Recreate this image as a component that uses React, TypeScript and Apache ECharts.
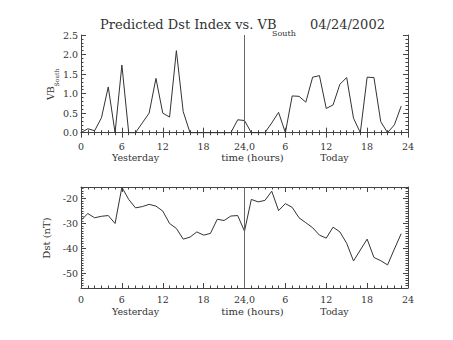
import React, { useEffect, useRef } from "react";
import * as echarts from "echarts";

const HOURS = [0,1,2,3,4,5,6,7,8,9,10,11,12,13,14,15,16,17,18,19,20,21,22,23,24,25,26,27,28,29,30,31,32,33,34,35,36,37,38,39,40,41,42,43,44,45,46,47];
const VB_SOUTH = [0,0.1,0.05,0.38,1.17,0,1.73,0,0,0.25,0.5,1.39,0.5,0.4,2.1,0.54,0,0,0,0,0,0,0,0.33,0.31,0,0,0,0.25,0.52,0,0.94,0.93,0.78,1.42,1.46,0.62,0.71,1.24,1.41,0.37,0,1.42,1.41,0.28,0,0.2,0.68];
const DST = [-28.7,-26,-27.7,-27.1,-26.8,-30,-15.4,-20.3,-23.7,-23.2,-22.3,-23,-25,-30,-32,-36.3,-35.5,-33.4,-34.7,-34,-28.3,-28.8,-27,-26.8,-33.1,-20.3,-21.3,-20.7,-17,-24.8,-22,-23.5,-27.7,-29.7,-31.7,-34.7,-35.9,-31.5,-33.4,-38,-45.1,-40.7,-36.3,-43.7,-45,-46.7,-40.3,-34.1];
const X_TICK_LABELS: Record<number, string> = { 0: "0", 6: "6", 12: "12", 18: "18", 24: "24,0", 30: "6", 36: "12", 42: "18", 48: "24" };
const VB_TICKS = [0, 0.5, 1.0, 1.5, 2.0, 2.5];
const DST_TICKS = [-50, -40, -30, -20];

const FONT = "DejaVu Serif";
const INK = "#333";
const AXIS = "#444";

function range(a: number, b: number, step: number) {
  const out: number[] = [];
  for (let v = a; v <= b + 1e-9; v += step) out.push(Math.round(v * 1000) / 1000);
  return out;
}

export default function App() {
  const ref = useRef<HTMLDivElement>(null);
  useEffect(() => {
    if (!ref.current) return;
    const chart = echarts.init(ref.current, null, { renderer: "svg" });
    const grids = [
      { left: 81, top: 35, width: 327, height: 100 },
      { left: 81, top: 187, width: 327, height: 101 },
    ];
    const xAx = (gridIndex: number, position: string, labels: boolean) => ({
      type: "value",
      gridIndex,
      position,
      min: 0,
      max: 48,
      interval: 6,
      axisLine: { show: true, lineStyle: { color: AXIS, width: 1 } },
      axisTick: { show: true, inside: true, length: 5, lineStyle: { color: AXIS } },
      minorTick: { show: true, splitNumber: 6, length: 2.5, lineStyle: { color: AXIS } },
      splitLine: { show: false },
      minorSplitLine: { show: false },
      axisLabel: {
        show: labels,
        margin: 6,
        fontFamily: FONT,
        fontSize: 9.5,
        color: INK,
        formatter: (v: number) => X_TICK_LABELS[v] ?? "",
      },
    });
    const yAx = (
      gridIndex: number,
      position: string,
      min: number,
      max: number,
      ticks: number[],
      len: number,
      labels: boolean,
      line: boolean,
      fmt: (v: number) => string
    ) => ({
      type: "value",
      gridIndex,
      position,
      min,
      max,
      axisLine: { show: line, lineStyle: { color: AXIS, width: 1 } },
      axisTick: { show: true, inside: true, length: len, customValues: ticks, lineStyle: { color: AXIS } },
      splitLine: { show: false },
      axisLabel: {
        show: labels,
        customValues: ticks,
        margin: 3,
        fontFamily: FONT,
        fontSize: 9.5,
        color: INK,
        formatter: fmt,
      },
    });
    const vbMinor = range(0, 2.5, 0.1);
    const dstMinor = range(-56, -16, 1);
    const f1 = (v: number) => v.toFixed(1);
    const f0 = (v: number) => String(Math.round(v));
    const vbMin = -0.06, vbMax = 2.5, dMin = -56, dMax = -15.3;

    const yAxes = [
      yAx(0, "left", vbMin, vbMax, VB_TICKS, 5, true, true, f1),
      yAx(0, "left", vbMin, vbMax, vbMinor, 2.5, false, false, f1),
      yAx(0, "right", vbMin, vbMax, VB_TICKS, 5, false, true, f1),
      yAx(0, "right", vbMin, vbMax, vbMinor, 2.5, false, false, f1),
      yAx(1, "left", dMin, dMax, DST_TICKS, 5, true, true, f0),
      yAx(1, "left", dMin, dMax, dstMinor, 2.5, false, false, f0),
      yAx(1, "right", dMin, dMax, DST_TICKS, 5, false, true, f0),
      yAx(1, "right", dMin, dMax, dstMinor, 2.5, false, false, f0),
    ];

    const txt = (text: string, x: number, y: number, size: number, align = "left") => ({
      type: "text",
      x,
      y,
      style: { text, fill: INK, font: `${size}px "${FONT}"`, textAlign: align, textVerticalAlign: "middle" },
    });

    const markLine = {
      silent: true,
      symbol: "none",
      label: { show: false },
      lineStyle: { color: "#666", width: 1, type: "solid" },
      data: [{ xAxis: 24 }],
    };

    chart.setOption({
      animation: false,
      grid: grids,
      xAxis: [xAx(0, "bottom", true), xAx(0, "top", false), xAx(1, "bottom", true), xAx(1, "top", false)],
      yAxis: yAxes,
      series: [
        {
          type: "line",
          xAxisIndex: 0,
          yAxisIndex: 0,
          data: HOURS.map((h, i) => [h, VB_SOUTH[i]]),
          showSymbol: false,
          lineStyle: { color: INK, width: 1 },
          markLine,
        },
        {
          type: "line",
          xAxisIndex: 2,
          yAxisIndex: 4,
          data: HOURS.map((h, i) => [h, DST[i]]),
          showSymbol: false,
          lineStyle: { color: INK, width: 1 },
          markLine,
        },
      ],
      graphic: [
        txt("Predicted Dst Index vs. VB", 100, 24, 13),
        txt("South", 272, 33, 8),
        txt("04/24/2002", 310, 24, 13),
        txt("Yesterday", 135.5, 157.5, 9.5, "center"),
        txt("time (hours)", 252.5, 157.5, 10, "center"),
        txt("Today", 334.5, 157.5, 9.5, "center"),
        txt("Yesterday", 135.5, 311, 9.5, "center"),
        txt("time (hours)", 252.5, 311, 10, "center"),
        txt("Today", 334.5, 311, 9.5, "center"),
        {
          type: "group",
          x: 50.7,
          y: 100,
          rotation: Math.PI / 2,
          children: [
            { type: "text", x: 0, y: 0, style: { text: "VB", fill: INK, font: `9.5px "${FONT}"`, textAlign: "left", textVerticalAlign: "middle" } },
            { type: "text", x: 13.5, y: 5.3, style: { text: "South", fill: INK, font: `6px "${FONT}"`, textAlign: "left", textVerticalAlign: "middle" } },
          ],
        },
        {
          type: "text",
          x: 46.7,
          y: 238,
          rotation: Math.PI / 2,
          style: { text: "Dst (nT)", fill: INK, font: `10px "${FONT}"`, textAlign: "center", textVerticalAlign: "middle" },
        },
      ],
    });
    return () => chart.dispose();
  }, []);
  return <div ref={ref} style={{ position: "fixed", left: 0, top: 0, width: 453, height: 340, background: "#fff" }} />;
}
